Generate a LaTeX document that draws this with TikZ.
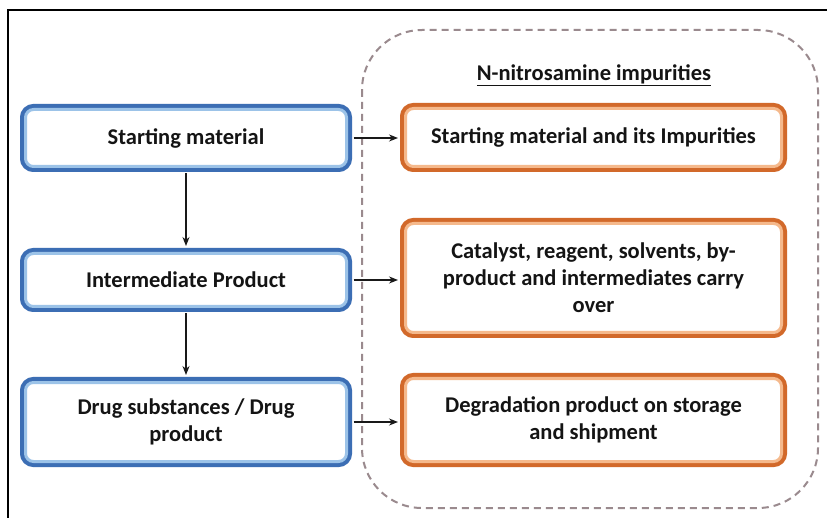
\documentclass[tikz,border=0pt]{standalone}
\usepackage{fontspec}
\setmainfont{Carlito}
\usetikzlibrary{arrows.meta}
\definecolor{bdark}{HTML}{3C6EB4}
\definecolor{blight}{HTML}{9CC3E8}
\definecolor{odark}{HTML}{D2692A}
\definecolor{olight}{HTML}{F5B98C}
\definecolor{dashc}{HTML}{9A8A8E}
\tikzset{
  boxtext/.style={font=\fontsize{22.5}{27}\selectfont\bfseries, align=center, text=black!92},
  bluebox/.style={boxtext, rounded corners=8pt, fill=white, draw=blight, line width=3pt,
    preaction={draw=bdark, line width=11pt}, minimum width=321pt, inner sep=0pt},
  orangebox/.style={boxtext, rounded corners=8pt, fill=white, draw=olight, line width=3pt,
    preaction={draw=odark, line width=11pt}, minimum width=376pt, inner sep=0pt},
  conn/.style={-{Stealth[length=9pt,width=7pt]}, line width=1.4pt, black!90}
}
\begin{document}
\begin{tikzpicture}[x=1pt,y=-1pt]
\useasboundingbox (0,0) rectangle (827,518);
\fill[white] (0,0) rectangle (827,518);
% outer frame
\draw[line width=1.6pt, black] (8,540) coordinate (fbl) -- (8,10) coordinate (ftl) -- (850,10) coordinate (ftr);
% dashed group
\draw[dashc, line width=2pt, dash pattern=on 7pt off 5pt, rounded corners=60pt] (362,30) rectangle (818,508);
\node[boxtext] (title) at (594,75) {\underline{N-nitrosamine impurities}};
% blue boxes
\node[bluebox, minimum height=57pt] (sm) at (186,138) {Starting material};
\node[bluebox, minimum height=53pt] (ip) at (186,280) {Intermediate Product};
\node[bluebox, minimum height=79pt] (dp) at (186,422) {Drug substances / Drug\\product};
% orange boxes
\node[orangebox, minimum height=58pt] (smi) at (593.5,137.5) {Starting material and its Impurities};
\node[orangebox, minimum height=109pt] (cat) at (593.5,278) {Catalyst, reagent, solvents, by-\\product and intermediates carry\\over};
\node[orangebox, minimum height=83pt] (deg) at (593.5,420) {Degradation product on storage\\and shipment};
% connectors
\draw[conn] ([yshift=-5.5pt]sm.south) -- ([yshift=6pt]ip.north);
\draw[conn] ([yshift=-5.5pt]ip.south) -- ([yshift=6pt]dp.north);
\draw[conn] ([xshift=5.5pt]sm.east) -- ([xshift=-6pt]smi.west |- sm.east);
\draw[conn] ([xshift=5.5pt]ip.east) -- ([xshift=-6pt]cat.west |- ip.east);
\draw[conn] ([xshift=5.5pt]dp.east) -- ([xshift=-6pt]deg.west |- dp.east);
\end{tikzpicture}
\end{document}
